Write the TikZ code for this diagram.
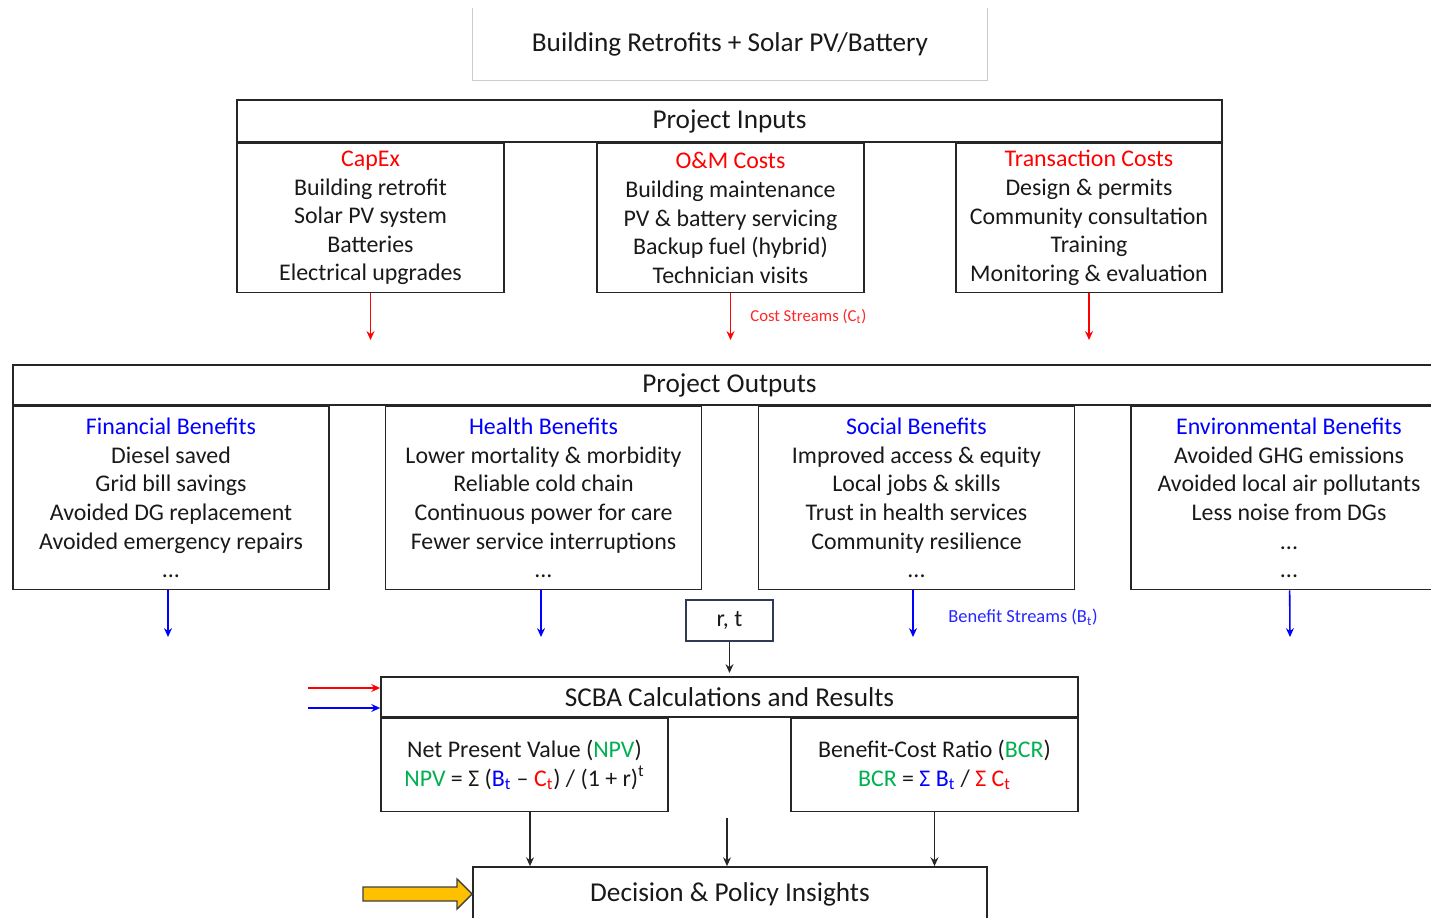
\documentclass[tikz,border=0pt]{standalone}
\usepackage{fontspec}
\setmainfont{Carlito}
\usetikzlibrary{arrows.meta}

\definecolor{costred}{HTML}{FF0000}
\definecolor{benblue}{HTML}{0000FF}
\definecolor{npvgreen}{HTML}{00B050}
\definecolor{arrowgold}{HTML}{FFC000}
\definecolor{slate}{HTML}{2F3B55}

\begin{document}
\begin{tikzpicture}
        [x=0.02cm, y=-0.02cm, every node/.style={font=\fontsize{13.6}{16.3}\selectfont, text=black!90, align=center, inner sep=0},
         box/.style={draw=black!85, line width=1pt},
         head/.style={font=\fontsize{15.5}{18}\selectfont},
         small/.style={font=\fontsize{9.5}{11}\selectfont, anchor=west},
         costarrow/.style={draw=costred, line width=0.9pt, -{Stealth[length=5pt,width=4.5pt]}},
         benarrow/.style={draw=benblue, line width=0.9pt, -{Stealth[length=5pt,width=4.5pt]}},
         flow/.style={draw=black!85, line width=0.8pt, -{Stealth[length=5pt,width=4.5pt]}}]

        \useasboundingbox (0, 0) rectangle (1431, 918);

        \node[head] (title) at (730, 44) [minimum width=514*0.02cm, minimum height=72*0.02cm] {Building Retrofits + Solar PV/Battery};
        \draw[black!20, line width=0.6pt] (title.north west) -- (title.south west) -- (title.south east) -- (title.north east);

        \node[box, head] (inputs) at (729.5, 121) [minimum width=985*0.02cm, minimum height=42*0.02cm] {Project Inputs};
        \node[box] (capex) at (370.5, 218) [minimum width=267*0.02cm, minimum height=149*0.02cm]
          {{\color{costred}CapEx}\\Building retrofit\\Solar PV system\\Batteries\\Electrical upgrades};
        \node[box] (om) at (730.5, 218) [minimum width=267*0.02cm, minimum height=149*0.02cm]
          {{\color{costred}O\&M Costs}\\Building maintenance\\PV \& battery servicing\\Backup fuel (hybrid)\\Technician visits};
        \node[box] (trans) at (1089, 218) [minimum width=266*0.02cm, minimum height=149*0.02cm]
          {{\color{costred}Transaction Costs}\\Design \& permits\\Community consultation\\Training\\Monitoring \& evaluation};

        \coordinate (capexend) at (370.5, 340);
        \coordinate (omend) at (730.5, 340);
        \coordinate (transend) at (1089, 340);
        \node[small, text=costred!85] (coststreams) at (750, 317) {Cost Streams (C\textsubscript{t})};

        \node[box, head] (outputs) at (729.5, 385) [minimum width=1433*0.02cm, minimum height=40*0.02cm] {Project Outputs};
        \node[box] (fin) at (171, 498) [minimum width=316*0.02cm, minimum height=183*0.02cm]
          {{\color{benblue}Financial Benefits}\\Diesel saved\\Grid bill savings\\Avoided DG replacement\\Avoided emergency repairs\\...};
        \node[box] (health) at (543.5, 498) [minimum width=316*0.02cm, minimum height=183*0.02cm]
          {{\color{benblue}Health Benefits}\\Lower mortality \& morbidity\\Reliable cold chain\\Continuous power for care\\Fewer service interruptions\\...};
        \node[box] (social) at (916.5, 498) [minimum width=316*0.02cm, minimum height=183*0.02cm]
          {{\color{benblue}Social Benefits}\\Improved access \& equity\\Local jobs \& skills\\Trust in health services\\Community resilience\\...};
        \node[box] (env) at (1289, 498) [minimum width=316*0.02cm, minimum height=183*0.02cm]
          {{\color{benblue}Environmental Benefits}\\Avoided GHG emissions\\Avoided local air pollutants\\Less noise from DGs\\...\\...};

        \coordinate (finend) at (168, 637);
        \coordinate (healthend) at (541, 637);
        \coordinate (socialend) at (913, 637);
        \coordinate (envend) at (1290, 637);
        \node[small, text=benblue!85, font=\fontsize{10.5}{12}\selectfont] (benstreams) at (948, 617) {Benefit Streams (B\textsubscript{t})};

        \node[draw=slate, line width=1pt] (rt) at (729.5, 620.5) [minimum width=87*0.02cm, minimum height=41*0.02cm] {r, t};
        \coordinate (rtend) at (729.5, 673);

        \node[box, head] (scba) at (729.5, 697) [minimum width=697*0.02cm, minimum height=40*0.02cm] {SCBA Calculations and Results};
        \node[box] (npv) at (524.5, 765) [minimum width=287*0.02cm, minimum height=93*0.02cm]
          {Net Present Value ({\color{npvgreen}NPV})\\{\color{npvgreen}NPV} = Σ ({\color{benblue}B\textsubscript{t}} – {\color{costred}C\textsubscript{t}}) / (1 + r)\textsuperscript{t}};
        \node[box] (bcr) at (934.5, 765) [minimum width=287*0.02cm, minimum height=93*0.02cm]
          {Benefit-Cost Ratio ({\color{npvgreen}BCR})\\{\color{npvgreen}BCR} = {\color{benblue}Σ B\textsubscript{t}} / {\color{costred}Σ C\textsubscript{t}}};
        \coordinate (costin) at (308, 688);
        \coordinate (benin) at (308, 708);

        \node[box, head] (decision) at (730, 894) [minimum width=514*0.02cm, minimum height=54*0.02cm] {Decision \& Policy Insights};
        \coordinate (npvout) at (530, 811);
        \coordinate (midstart) at (727, 818);

        \draw[costarrow] (capex) -- (capexend);
        \draw[costarrow] (om) -- (omend);
        \draw[costarrow] (trans) -- (transend);
        \draw[benarrow] (finend |- fin.south) -- (finend);
        \draw[benarrow] (healthend |- health.south) -- (healthend);
        \draw[benarrow] (socialend |- social.south) -- (socialend);
        \draw[benarrow] (env) -- (envend);
        \draw[flow] (rt) -- (rtend);
        \draw[costarrow] (costin) -- (costin -| scba.west);
        \draw[benarrow] (benin) -- (benin -| scba.west);
        \draw[flow] (npvout) -- (npvout |- decision.north);
        \draw[flow] (midstart) -- (midstart |- decision.north);
        \draw[flow] (bcr) -- (bcr.south |- decision.north);
        \draw[fill=arrowgold, draw=black!75, line width=0.8pt] (363, 887) -- (457, 887) -- (457, 879) -- (decision.west) -- (457, 909) -- (457, 901) -- (363, 901) -- cycle;
      \end{tikzpicture}
\end{document}
